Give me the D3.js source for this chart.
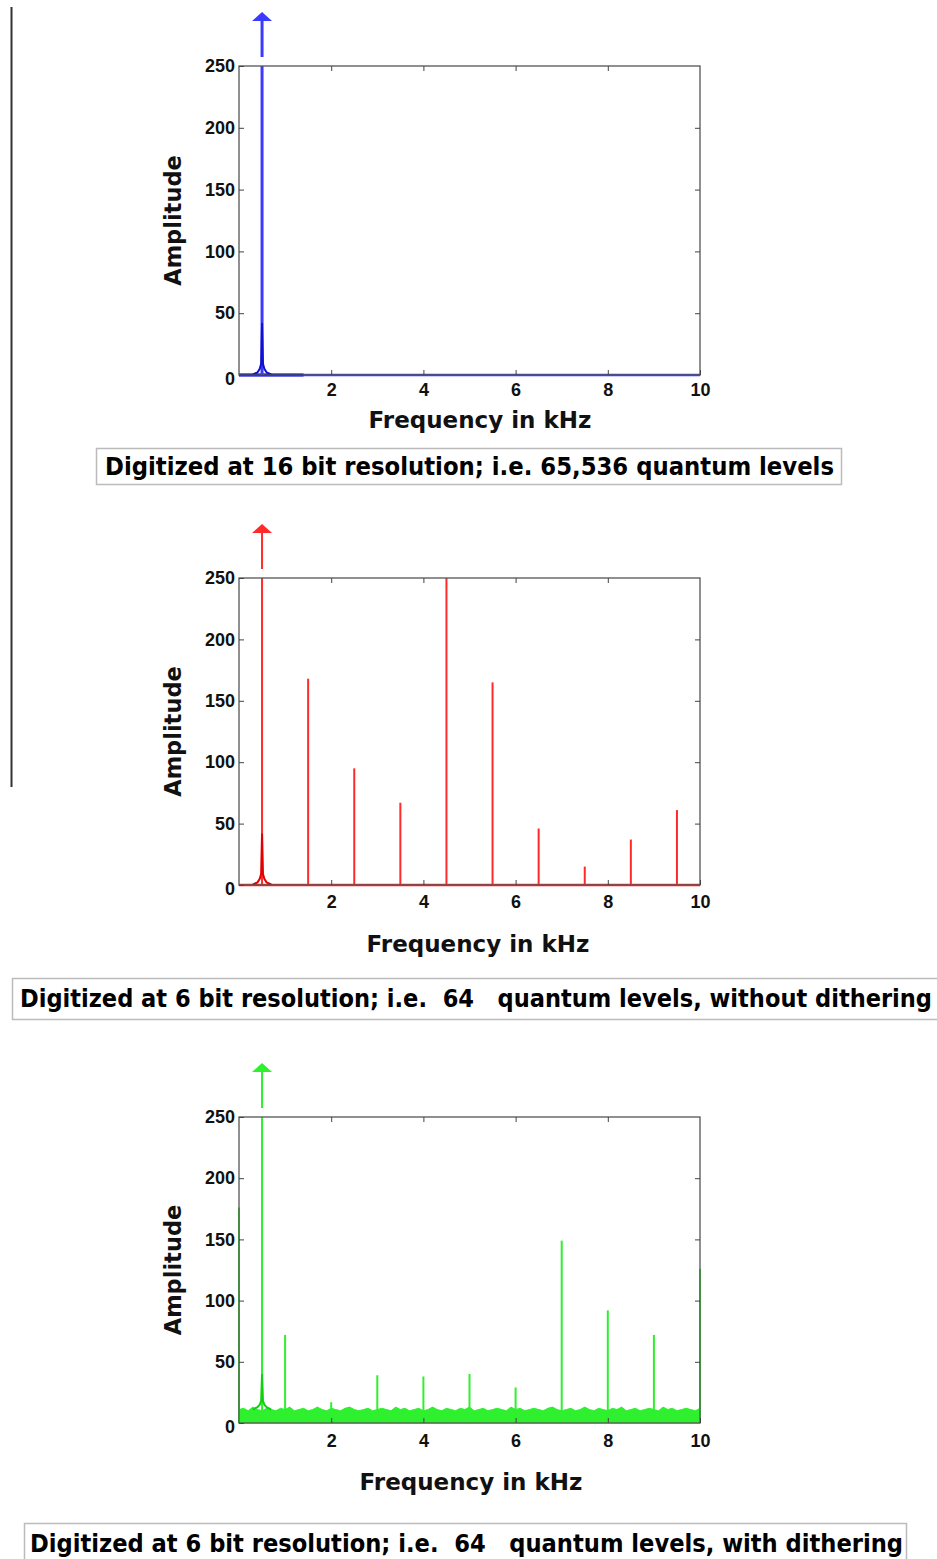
<!DOCTYPE html>
<html lang="en">
<head>
<meta charset="utf-8">
<title>Quantization spectra</title>
<script src="https://d3js.org/d3.v7.min.js"></script>
<style>
	body { margin: 0; background: #ffffff; }
	svg { display: block; }
</style>
</head>
<body>
<script>
// axis ticks
var freqTicks = [2, 4, 6, 8, 10];
var ampTicks = [0, 50, 100, 150, 200, 250];

// the tone itself (goes off scale, marked by an arrow)
var toneFreq = 0.5;

// leakage around the tone, [kHz] and amplitude per panel
var humpFreq = [0.3, 0.4, 0.45, 0.48, 0.5, 0.52, 0.55, 0.6, 0.7];
var humpAmp16 = [0.5, 2, 5, 9, 42, 9, 5, 2, 0.5];
var humpAmp6 = [0.5, 2, 5, 9, 42, 9, 5, 2, 0.5];
var humpAmpDither = [11, 13, 15, 18, 40, 18, 15, 13, 11];

// 6 bit, no dithering: harmonic lines
var harmFreq = [1.5, 2.5, 3.5, 4.5, 5.5, 6.5, 7.5, 8.5, 9.5];
var harmAmp = [168, 95, 67, 250, 165, 46, 15, 37, 61];

// 6 bit, with dithering: spurs on top of the noise floor
var spurFreq = [0, 1, 2, 3, 4, 5, 6, 7, 8, 9, 10];
var spurAmp = [176, 72, 17, 39, 38, 40, 29, 149, 92, 72, 126];

// noise floor read every 0.1 kHz from 0 to 10
var noiseAmp = [
	11, 12, 10, 13, 11, 10, 12, 11, 10, 12,
	11, 13, 10, 11, 12, 10, 11, 13, 11, 10,
	12, 11, 10, 12, 13, 11, 10, 11, 12, 10,
	11, 12, 11, 10, 13, 11, 12, 10, 11, 12,
	10, 11, 13, 11, 10, 12, 11, 10, 12, 11,
	13, 10, 11, 12, 10, 11, 12, 11, 10, 13,
	11, 12, 10, 11, 12, 11, 10, 12, 13, 11,
	10, 11, 12, 10, 11, 13, 11, 10, 12, 11,
	10, 12, 11, 13, 10, 11, 12, 10, 11, 12,
	11, 10, 13, 11, 12, 10, 11, 12, 11, 10,
	12
];

var captions = [
	"Digitized at 16 bit resolution; i.e. 65,536 quantum levels",
	"Digitized at 6 bit resolution; i.e.  64   quantum levels, without dithering",
	"Digitized at 6 bit resolution; i.e.  64   quantum levels, with dithering"
];

var w = 937, h = 1559;

var svg = d3.select("body").append("svg")
	.attr("width", w)
	.attr("height", h);

// thin rule on the far left
svg.append("line")
	.attr("x1", 11.5).attr("x2", 11.5)
	.attr("y1", 7).attr("y2", 787)
	.attr("stroke", "#333")
	.attr("stroke-width", 2);

var panels = [
	{ top: 66, bottom: 375, color: "#3b3bff", dark: "#1010d0", xlab: 53, tickPad: 8, titleX: 480,
	  box: [96, 448, 745, 36], capX: [105, 834], capY: 475, caption: captions[0] },
	{ top: 578, bottom: 885, color: "#ff2a2a", dark: "#e00000", xlab: 67, tickPad: 10, titleX: 478,
	  box: [12, 978, 935, 41], capX: [20, 932], capY: 1007, caption: captions[1] },
	{ top: 1117, bottom: 1423, color: "#2ef02e", dark: "#10d010", xlab: 67, tickPad: 11, titleX: 471,
	  box: [24, 1523, 882, 40], capX: [30, 903], capY: 1552, caption: captions[2] }
];

function styleTicks(sel) {
	sel.attr("font-size", null).attr("font-family", null);
	sel.selectAll("text")
		.style("font-family", "'Liberation Sans', Arial, sans-serif")
		.style("font-weight", "bold")
		.style("font-size", "18px")
		.style("fill", "#111");
	sel.selectAll(".tick line").attr("stroke", "#444");
	sel.select(".domain").remove();
}

panels.forEach(function(p, i) {
	var x = d3.scaleLinear().domain([0, 10]).range([239, 700]);
	var y = d3.scaleLinear().domain([0, 250]).range([p.bottom, p.top]);
	var g = svg.append("g");

	// data first, frame on top later
	var line = d3.line()
		.x(function(d) { return x(d[0]); })
		.y(function(d) { return y(d[1]); });

	var humpAmp = i == 0 ? humpAmp16 : (i == 1 ? humpAmp6 : humpAmpDither);
	var hump = humpFreq.map(function(f, k) { return [f, humpAmp[k]]; });

	if (i == 2) {
		var area = d3.area()
			.x(function(d, k) { return x(k * 0.1); })
			.y0(y(0))
			.y1(function(d) { return y(d); });
		g.append("path")
			.datum(noiseAmp)
			.attr("d", area)
			.attr("fill", p.color)
			.attr("stroke", p.color)
			.attr("stroke-width", 1);
		g.selectAll(".spur")
			.data(spurFreq)
			.enter().append("line")
			.attr("x1", function(d) { return x(d); })
			.attr("x2", function(d) { return x(d); })
			.attr("y1", y(0))
			.attr("y2", function(d, k) { return y(spurAmp[k]); })
			.attr("stroke", p.color)
			.attr("stroke-width", 2);
	} else {
		// baseline of the spectrum
		g.append("path")
			.datum([[0, 0], [10, 0]])
			.attr("d", line)
			.attr("stroke", p.color)
			.attr("stroke-width", 2.5)
			.attr("fill", "none");
		if (i == 0) {
			g.append("path")
				.datum([[0, 0], [1.4, 0]])
				.attr("d", line)
				.attr("stroke", p.dark)
				.attr("stroke-width", 3)
				.attr("fill", "none");
		}
		if (i == 1) {
			g.selectAll(".harm")
				.data(harmFreq)
				.enter().append("line")
				.attr("x1", function(d) { return x(d); })
				.attr("x2", function(d) { return x(d); })
				.attr("y1", y(0))
				.attr("y2", function(d, k) { return y(harmAmp[k]); })
				.attr("stroke", p.color)
				.attr("stroke-width", 2);
		}
	}

	// the tone: full-height line plus arrow above the frame
	var tx = x(toneFreq);
	g.append("line")
		.attr("x1", tx).attr("x2", tx)
		.attr("y1", y(0)).attr("y2", y(250))
		.attr("stroke", p.color)
		.attr("stroke-width", i == 0 ? 3 : 2);
	g.append("line")
		.attr("x1", tx).attr("x2", tx)
		.attr("y1", y(250) - 9).attr("y2", y(250) - 46)
		.attr("stroke", p.color)
		.attr("stroke-width", i == 0 ? 3 : 2);
	g.append("path")
		.attr("d", "M" + (tx - 10) + "," + (y(250) - 45) + "L" + tx + "," + (y(250) - 54) +
			"L" + (tx + 10) + "," + (y(250) - 45) + "Z")
		.attr("fill", p.color);

	g.append("path")
		.datum(hump)
		.attr("d", line)
		.attr("stroke", p.dark)
		.attr("stroke-width", 2)
		.attr("fill", "none");

	// frame with inward ticks on all sides
	g.append("rect")
		.attr("x", x(0)).attr("y", y(250))
		.attr("width", x(10) - x(0)).attr("height", y(0) - y(250))
		.attr("fill", "none")
		.attr("stroke", "#555")
		.attr("stroke-width", 1.3);

	g.append("g")
		.attr("transform", "translate(" + x(0) + ",0)")
		.call(d3.axisLeft(y).tickValues(ampTicks).tickSizeInner(-5).tickSizeOuter(0).tickPadding(4))
		.call(styleTicks)
		.selectAll(".tick text")
		.attr("dy", function(d) { return d == 0 ? "0.55em" : "0.32em"; });

	g.append("g")
		.attr("transform", "translate(0," + y(0) + ")")
		.call(d3.axisBottom(x).tickValues(freqTicks).tickSizeInner(-5).tickSizeOuter(0).tickPadding(p.tickPad))
		.call(styleTicks);

	g.append("g")
		.attr("transform", "translate(0," + y(250) + ")")
		.call(d3.axisTop(x).tickValues(freqTicks.slice(0, 4)).tickSizeInner(-5).tickSizeOuter(0).tickFormat(""))
		.call(styleTicks);

	g.append("g")
		.attr("transform", "translate(" + x(10) + ",0)")
		.call(d3.axisRight(y).tickValues(ampTicks.slice(1, 5)).tickSizeInner(-5).tickSizeOuter(0).tickFormat(""))
		.call(styleTicks);

	// axis titles
	g.append("text")
		.attr("transform", "translate(181," + ((p.top + p.bottom) / 2) + ") rotate(-90)")
		.attr("text-anchor", "middle")
		.style("font-family", "'DejaVu Sans', Verdana, sans-serif")
		.style("font-weight", "bold")
		.style("font-size", "22.5px")
		.style("fill", "#111")
		.text("Amplitude");

	g.append("text")
		.attr("x", p.titleX)
		.attr("y", p.bottom + p.xlab)
		.attr("text-anchor", "middle")
		.style("font-family", "'DejaVu Sans', Verdana, sans-serif")
		.style("font-weight", "bold")
		.style("font-size", "23px")
		.style("fill", "#111")
		.text("Frequency in kHz");

	// caption box
	svg.append("rect")
		.attr("x", p.box[0] + 0.5).attr("y", p.box[1] + 0.5)
		.attr("width", p.box[2]).attr("height", p.box[3])
		.attr("fill", "#fff")
		.attr("stroke", "#bbb")
		.attr("stroke-width", 1.5);

	svg.append("text")
		.attr("x", p.capX[0])
		.attr("y", p.capY)
		.attr("textLength", p.capX[1] - p.capX[0])
		.attr("lengthAdjust", "spacingAndGlyphs")
		.style("font-family", "'DejaVu Sans Condensed', 'Liberation Sans Narrow', 'DejaVu Sans', sans-serif")
		.style("font-weight", "bold")
		.style("font-size", "25px")
		.style("fill", "#000")
		.style("white-space", "pre")
		.text(p.caption);
});
</script>
</body>
</html>
